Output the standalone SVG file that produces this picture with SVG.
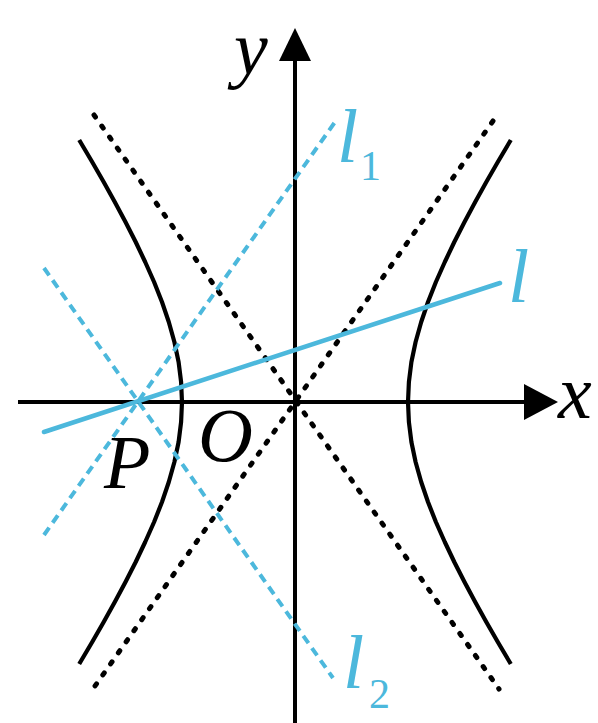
<svg xmlns="http://www.w3.org/2000/svg" width="598" height="723" viewBox="0 0 598 723">
<style>
.axis{stroke:#000;stroke-width:4;fill:none}
.hyp{stroke:#000;stroke-width:4.2;fill:none;stroke-linejoin:round}
.asym{stroke:#000;stroke-width:5;fill:none;stroke-dasharray:2.5 11;stroke-linecap:round}
.cdash{stroke:#4cb8dc;stroke-width:4;fill:none;stroke-dasharray:9 6}
.cline{stroke:#4cb8dc;stroke-width:4.5;fill:none;stroke-linecap:round}
.lab{font-family:"Liberation Serif","Times New Roman",serif;font-style:italic;font-size:76px;fill:#000}
.clab{font-family:"Liberation Serif","Times New Roman",serif;font-style:italic;font-size:76px;fill:#4cb8dc}
.sub{font-family:"Liberation Serif","Times New Roman",serif;font-size:42px;fill:#4cb8dc}
</style>
<rect width="598" height="723" fill="#fff"/>
<g id="axes">
<line class="axis" x1="18" y1="402" x2="528" y2="402"/>
<polygon points="558,402 524,384 524,420" fill="#000"/>
<line class="axis" x1="295" y1="723" x2="295" y2="58"/>
<polygon points="295,28 279,61 311,61" fill="#000"/>
</g>
<g id="asymptotes">
<line class="asym" x1="94" y1="115" x2="499" y2="689"/>
<line class="asym" x1="493" y1="121" x2="95" y2="686"/>
</g>
<g id="hyperbola-left">
<polyline class="hyp" points="79.2,140 92.2,162 103.7,182 114.8,202 125.5,222 135.7,242 145.2,262 154.1,282 162,302 168.8,322 174.4,342 178.6,362 181.1,382 182,402 181.1,422 178.6,442 174.4,462 168.8,482 162,502 154.1,522 145.2,542 135.7,562 125.5,582 114.8,602 103.7,622 92.2,642 79.2,664"/>
</g>
<g id="hyperbola-right">
<polyline class="hyp" points="510.8,140 497.8,162 486.3,182 475.2,202 464.5,222 454.3,242 444.8,262 435.9,282 428,302 421.2,322 415.6,342 411.4,362 408.9,382 408,402 408.9,422 411.4,442 415.6,462 421.2,482 428,502 435.9,522 444.8,542 454.3,562 464.5,582 475.2,602 486.3,622 497.8,642 510.8,664"/>
</g>
<g id="connectors">
<line id="l1" class="cdash" x1="44" y1="535" x2="335" y2="122"/>
<line id="l2" class="cdash" x1="44" y1="268" x2="333" y2="678"/>
<line id="l" class="cline" x1="44" y1="432" x2="500" y2="283"/>
</g>
<g id="labels">
<text class="lab" x="234" y="74">y</text>
<text class="lab" x="558" y="418">x</text>
<text class="lab" x="198" y="461">O</text>
<text class="lab" x="104" y="488">P</text>
<text class="clab" x="508" y="302">l</text>
<g id="label-l1"><text class="clab" x="337" y="162">l</text><text class="sub" x="360" y="180">1</text></g>
<g id="label-l2"><text class="clab" x="343" y="688">l</text><text class="sub" x="369" y="708">2</text></g>
</g>
</svg>
